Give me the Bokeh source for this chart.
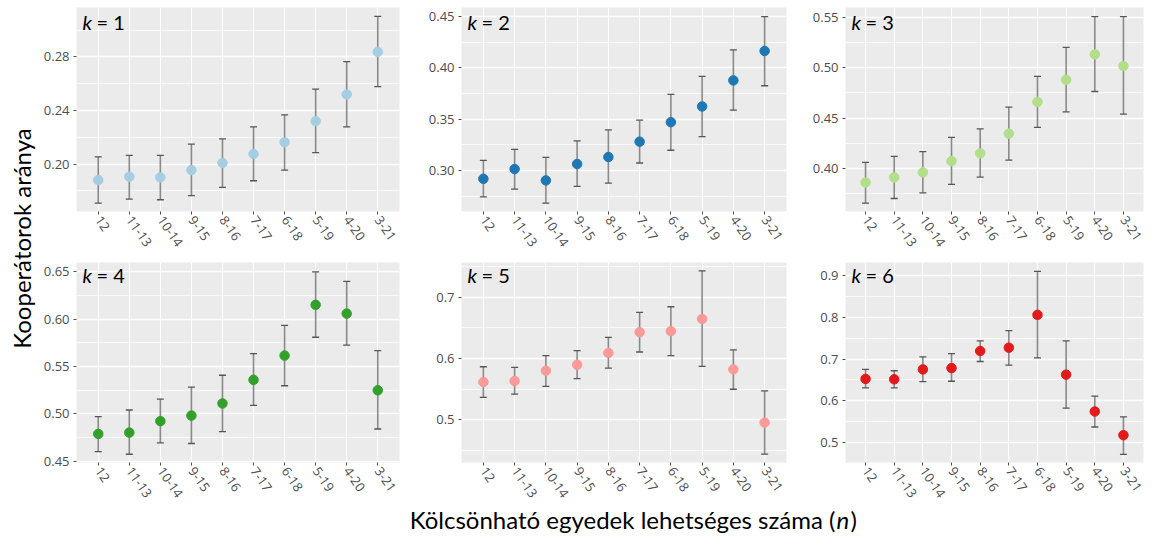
import math
from bokeh.plotting import figure
from bokeh.models import (ColumnDataSource, Whisker, TeeHead, FactorRange, FixedTicker,
                          Label, Range1d, NumeralTickFormatter)
from bokeh.layouts import row, column
from bokeh.embed import file_html
from bokeh.resources import INLINE

categories = ["12", "11-13", "10-14", "9-15", "8-16", "7-17", "6-18", "5-19", "4-20", "3-21"]

k1_mean = [0.1880, 0.1905, 0.1900, 0.1955, 0.2008, 0.2075, 0.2163, 0.2320, 0.2520, 0.2838]
k1_upper = [0.2053, 0.2065, 0.2065, 0.2148, 0.2188, 0.2278, 0.2368, 0.2560, 0.2765, 0.3103]
k1_lower = [0.1708, 0.1738, 0.1733, 0.1763, 0.1825, 0.1875, 0.1955, 0.2085, 0.2278, 0.2578]

k2_mean = [0.2918, 0.3013, 0.2902, 0.3062, 0.3130, 0.3280, 0.3470, 0.3623, 0.3877, 0.4164]
k2_upper = [0.3098, 0.3205, 0.3127, 0.3287, 0.3394, 0.3489, 0.3740, 0.3916, 0.4174, 0.4500]
k2_lower = [0.2742, 0.2817, 0.2680, 0.2844, 0.2876, 0.3072, 0.3196, 0.3330, 0.3587, 0.3825]

k3_mean = [0.3856, 0.3906, 0.3957, 0.4070, 0.4147, 0.4344, 0.4661, 0.4882, 0.5136, 0.5019]
k3_upper = [0.4057, 0.4117, 0.4164, 0.4307, 0.4391, 0.4608, 0.4915, 0.5206, 0.5513, 0.5513]
k3_lower = [0.3649, 0.3696, 0.3753, 0.3836, 0.3910, 0.4080, 0.4407, 0.4561, 0.4765, 0.4538]

k4_mean = [0.4788, 0.4802, 0.4923, 0.4982, 0.5110, 0.5360, 0.5616, 0.6153, 0.6060, 0.5249]
k4_upper = [0.4971, 0.5041, 0.5155, 0.5283, 0.5408, 0.5637, 0.5935, 0.6500, 0.6400, 0.5668]
k4_lower = [0.4601, 0.4573, 0.4694, 0.4687, 0.4812, 0.5089, 0.5297, 0.5810, 0.5727, 0.4840]

k5_mean = [0.5618, 0.5634, 0.5801, 0.5898, 0.6091, 0.6430, 0.6446, 0.6645, 0.5823, 0.4957]
k5_upper = [0.5866, 0.5855, 0.6048, 0.6129, 0.6344, 0.6753, 0.6844, 0.7430, 0.6140, 0.5473]
k5_lower = [0.5366, 0.5419, 0.5548, 0.5672, 0.5844, 0.6107, 0.6048, 0.5871, 0.5500, 0.4441]

k6_mean = [0.6523, 0.6515, 0.6752, 0.6783, 0.7193, 0.7272, 0.8061, 0.6625, 0.5742, 0.5174]
k6_upper = [0.6752, 0.6720, 0.7051, 0.7130, 0.7438, 0.7683, 0.9103, 0.7438, 0.6113, 0.5615]
k6_lower = [0.6310, 0.6310, 0.6460, 0.6468, 0.6941, 0.6854, 0.7028, 0.5821, 0.5371, 0.4716]

panel_titles = ["1", "2", "3", "4", "5", "6"]
colors = ["#a6cee3", "#1f78b4", "#b2df8a", "#33a02c", "#fb9a99", "#e31a1c"]

y_ranges = [(0.1645, 0.3170), (0.2599, 0.4588), (0.3566, 0.5604),
            (0.4486, 0.6600), (0.4306, 0.7565), (0.4519, 0.9316)]
y_major = [[0.20, 0.24, 0.28], [0.30, 0.35, 0.40, 0.45], [0.40, 0.45, 0.50, 0.55],
           [0.45, 0.50, 0.55, 0.60, 0.65], [0.5, 0.6, 0.7], [0.5, 0.6, 0.7, 0.8, 0.9]]
y_minor = [[0.18, 0.22, 0.26, 0.30], [0.275, 0.325, 0.375, 0.425], [0.375, 0.425, 0.475, 0.525],
           [0.475, 0.525, 0.575, 0.625], [0.45, 0.55, 0.65, 0.75], [0.55, 0.65, 0.75, 0.85]]
y_formats = ["0.00", "0.00", "0.00", "0.00", "0.0", "0.0"]

x_title = "Kölcsönható egyedek lehetséges száma ("
x_title_var = "n"
y_title = "Kooperátorok aránya"

means = [k1_mean, k2_mean, k3_mean, k4_mean, k5_mean, k6_mean]
uppers = [k1_upper, k2_upper, k3_upper, k4_upper, k5_upper, k6_upper]
lowers = [k1_lower, k2_lower, k3_lower, k4_lower, k5_lower, k6_lower]

# layout geometry
YLAB_W = 38
col_L = [38, 40, 40]
col_F = [323, 325, 298]
col_R = [22, 19, 14]
row_T = [7, 5]
row_F = [204, 202]
row_B = [46, 40]
XLAB_H = 33

TICK_FONT = "Open Sans"
TITLE_FONT = "Lato"


def make_panel(i):
    c = i % 3
    r = i // 3
    ys, ye = y_ranges[i]
    p = figure(x_range=FactorRange(factors=categories, range_padding=0.2,
                                   range_padding_units="absolute"),
               y_range=Range1d(ys, ye),
               width=col_L[c] + col_F[c] + col_R[c],
               height=row_T[r] + row_F[r] + row_B[r],
               min_border_left=col_L[c], min_border_right=col_R[c],
               min_border_top=row_T[r], min_border_bottom=row_B[r],
               output_backend="svg", toolbar_location=None)
    p.background_fill_color = "#ebebeb"
    p.border_fill_color = "white"
    p.outline_line_color = None

    src = ColumnDataSource(dict(x=categories, m=means[i], up=uppers[i], lo=lowers[i]))
    w = Whisker(base="x", upper="up", lower="lo", source=src, dimension="height",
                line_color="#8a8a8a", line_width=1.6,
                upper_head=TeeHead(size=7, line_color="#555555", line_width=1.3),
                lower_head=TeeHead(size=7, line_color="#555555", line_width=1.3))
    p.add_layout(w)
    p.scatter("x", "m", source=src, size=9.5, fill_color=colors[i], line_color=colors[i])

    p.yaxis.ticker = FixedTicker(ticks=y_major[i], minor_ticks=y_minor[i])
    p.yaxis.formatter = NumeralTickFormatter(format=y_formats[i])
    for ax in (p.xaxis, p.yaxis):
        ax.axis_line_color = None
        ax.major_tick_line_color = "#4d4d4d"
        ax.major_tick_out = 3
        ax.major_tick_in = 0
        ax.minor_tick_line_color = None
        ax.major_label_text_font = TICK_FONT
        ax.major_label_text_font_size = "13px"
        ax.major_label_text_color = "#4d4d4d"
        ax.major_label_standoff = 3
    p.xaxis.major_label_orientation = -math.radians(55)

    p.xgrid.grid_line_color = "white"
    p.xgrid.grid_line_width = 1.1
    p.ygrid.grid_line_color = "white"
    p.ygrid.grid_line_width = 1.3
    p.ygrid.minor_grid_line_color = "white"
    p.ygrid.minor_grid_line_width = 0.7

    top = row_F[r] - 2
    p.add_layout(Label(x=6, y=top, x_units="screen", y_units="screen", text="k",
                       text_baseline="top",
                       text_font=TITLE_FONT, text_font_style="italic",
                       text_font_size="20px", text_color="black"))
    p.add_layout(Label(x=20, y=top, x_units="screen", y_units="screen",
                       text="= " + panel_titles[i], text_baseline="top",
                       text_font=TITLE_FONT, text_font_size="20px", text_color="black"))
    return p


def blank(w, h):
    b = figure(width=w, height=h, x_range=Range1d(0, w), y_range=Range1d(0, h),
               min_border=0, output_backend="svg", toolbar_location=None)
    b.axis.visible = False
    b.grid.visible = False
    b.outline_line_color = None
    b.background_fill_color = "white"
    return b


panels = [make_panel(i) for i in range(6)]

grid_h = sum(row_T) + sum(row_F) + sum(row_B)
ylab = blank(YLAB_W, grid_h)
ylab.add_layout(Label(x=21, y=grid_h - 238, text=y_title, angle=math.pi / 2,
                      text_align="center", text_baseline="middle",
                      text_font=TITLE_FONT, text_font_size="24px", text_color="black"))

total_w = YLAB_W + sum(col_L) + sum(col_F) + sum(col_R)
xlab = blank(total_w, XLAB_H)
xlab.add_layout(Label(x=835, y=4, text=x_title, text_align="right",
                      text_font=TITLE_FONT, text_font_size="24px", text_color="black"))
xlab.add_layout(Label(x=836, y=4, text=x_title_var, text_align="left",
                      text_font=TITLE_FONT, text_font_style="italic",
                      text_font_size="24px", text_color="black"))
xlab.add_layout(Label(x=850, y=4, text=")", text_align="left",
                      text_font=TITLE_FONT, text_font_size="24px", text_color="black"))

grid = column(row(*panels[:3]), row(*panels[3:]))
layout = column(row(ylab, grid), xlab)

open("out.html", "w").write(file_html(layout, INLINE))
